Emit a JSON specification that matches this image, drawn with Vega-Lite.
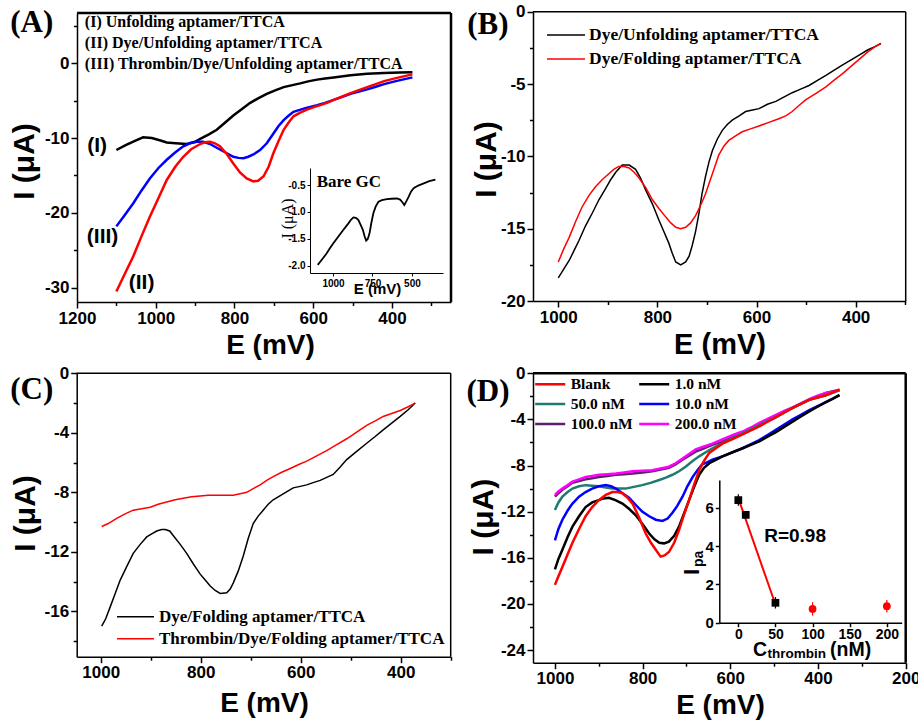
{
"$schema": "https://vega.github.io/schema/vega-lite/v6.json",
"width": 918, "height": 723, "autosize": "none", "padding": 0, "background": "white",
"config": {
 "view": {"stroke": null},
 "axis": {"grid": false, "labelFlush": false, "domainColor": "#000", "domainWidth": 1.5, "tickColor": "#000", "tickWidth": 1.5, "labelColor": "#000", "labelFont": "Liberation Sans", "labelFontWeight": "bold", "labelFontSize": 17, "labelPadding": 2, "labelOverlap": false, "titleColor": "#000", "titleFont": "Liberation Sans", "titleFontWeight": "bold", "titleFontSize": 28, "titleBaseline": "alphabetic"},
 "legend": {"title": null, "orient": "none", "symbolType": "stroke", "symbolStrokeWidth": 3, "labelFont": "Liberation Serif", "labelFontWeight": "bold", "labelColor": "#000", "labelLimit": 500, "rowPadding": 0, "padding": 0}
},
"datasets": {
 "A": [
  {"s":"frameT","E":1200,"I":6.7},{"s":"frameT","E":250,"I":6.7},{"s":"frameR","E":250,"I":6.7},{"s":"frameR","E":250,"I":-31.9},
  {"s":"I","E":1100,"I":-11.6},{"s":"I","E":1075,"I":-10.9},{"s":"I","E":1050,"I":-10.3},{"s":"I","E":1032,"I":-9.9},{"s":"I","E":1010,"I":-10.0},{"s":"I","E":990,"I":-10.3},{"s":"I","E":972,"I":-10.6},{"s":"I","E":950,"I":-10.7},{"s":"I","E":921,"I":-10.8},{"s":"I","E":900,"I":-10.5},{"s":"I","E":887,"I":-10.1},{"s":"I","E":865,"I":-9.5},{"s":"I","E":845,"I":-8.9},{"s":"I","E":825,"I":-8.0},{"s":"I","E":803,"I":-7.0},{"s":"I","E":780,"I":-6.1},{"s":"I","E":760,"I":-5.3},{"s":"I","E":740,"I":-4.7},{"s":"I","E":718,"I":-4.1},{"s":"I","E":695,"I":-3.6},{"s":"I","E":675,"I":-3.2},{"s":"I","E":650,"I":-2.9},{"s":"I","E":633,"I":-2.7},{"s":"I","E":610,"I":-2.4},{"s":"I","E":590,"I":-2.2},{"s":"I","E":570,"I":-2.05},{"s":"I","E":548,"I":-1.9},{"s":"I","E":505,"I":-1.6},{"s":"I","E":463,"I":-1.4},{"s":"I","E":420,"I":-1.3},{"s":"I","E":380,"I":-1.25},{"s":"I","E":348,"I":-1.2},
  {"s":"III","E":1100,"I":-21.8},{"s":"III","E":1079,"I":-20.3},{"s":"III","E":1057,"I":-18.7},{"s":"III","E":1036,"I":-17.0},{"s":"III","E":1015,"I":-15.4},{"s":"III","E":993,"I":-14.0},{"s":"III","E":972,"I":-12.9},{"s":"III","E":950,"I":-11.9},{"s":"III","E":930,"I":-11.1},{"s":"III","E":913,"I":-10.7},{"s":"III","E":896,"I":-10.5},{"s":"III","E":879,"I":-10.5},{"s":"III","E":862,"I":-10.8},{"s":"III","E":845,"I":-11.3},{"s":"III","E":824,"I":-11.9},{"s":"III","E":803,"I":-12.5},{"s":"III","E":790,"I":-12.65},{"s":"III","E":777,"I":-12.7},{"s":"III","E":765,"I":-12.5},{"s":"III","E":752,"I":-12.2},{"s":"III","E":735,"I":-11.6},{"s":"III","E":718,"I":-10.7},{"s":"III","E":701,"I":-9.4},{"s":"III","E":688,"I":-8.4},{"s":"III","E":675,"I":-7.6},{"s":"III","E":662,"I":-7.0},{"s":"III","E":650,"I":-6.5},{"s":"III","E":620,"I":-6.0},{"s":"III","E":590,"I":-5.6},{"s":"III","E":570,"I":-5.3},{"s":"III","E":548,"I":-4.9},{"s":"III","E":526,"I":-4.5},{"s":"III","E":505,"I":-4.1},{"s":"III","E":484,"I":-3.8},{"s":"III","E":463,"I":-3.5},{"s":"III","E":441,"I":-3.15},{"s":"III","E":420,"I":-2.8},{"s":"III","E":390,"I":-2.4},{"s":"III","E":348,"I":-1.9},
  {"s":"II","E":1100,"I":-30.5},{"s":"II","E":1080,"I":-28.3},{"s":"II","E":1057,"I":-25.8},{"s":"II","E":1036,"I":-23.1},{"s":"II","E":1015,"I":-20.5},{"s":"II","E":993,"I":-18.0},{"s":"II","E":972,"I":-15.6},{"s":"II","E":950,"I":-13.8},{"s":"II","E":930,"I":-12.5},{"s":"II","E":910,"I":-11.5},{"s":"II","E":887,"I":-10.8},{"s":"II","E":875,"I":-10.55},{"s":"II","E":862,"I":-10.5},{"s":"II","E":850,"I":-10.7},{"s":"II","E":837,"I":-11.1},{"s":"II","E":820,"I":-12.1},{"s":"II","E":803,"I":-13.4},{"s":"II","E":786,"I":-14.6},{"s":"II","E":769,"I":-15.4},{"s":"II","E":752,"I":-15.8},{"s":"II","E":740,"I":-15.7},{"s":"II","E":726,"I":-15.1},{"s":"II","E":713,"I":-13.8},{"s":"II","E":701,"I":-12.0},{"s":"II","E":688,"I":-10.4},{"s":"II","E":675,"I":-8.9},{"s":"II","E":662,"I":-7.9},{"s":"II","E":650,"I":-7.1},{"s":"II","E":633,"I":-6.6},{"s":"II","E":616,"I":-6.2},{"s":"II","E":600,"I":-5.9},{"s":"II","E":582,"I":-5.6},{"s":"II","E":565,"I":-5.3},{"s":"II","E":548,"I":-4.9},{"s":"II","E":526,"I":-4.45},{"s":"II","E":505,"I":-4.0},{"s":"II","E":484,"I":-3.6},{"s":"II","E":463,"I":-3.2},{"s":"II","E":441,"I":-2.8},{"s":"II","E":420,"I":-2.4},{"s":"II","E":390,"I":-2.0},{"s":"II","E":348,"I":-1.5}
 ],
 "Ains": [
  {"E":1097,"I":-1.98},{"E":1070,"I":-1.88},{"E":1040,"I":-1.765},{"E":1020,"I":-1.67},{"E":998,"I":-1.58},{"E":965,"I":-1.45},{"E":934,"I":-1.33},{"E":905,"I":-1.22},{"E":885,"I":-1.14},{"E":871,"I":-1.10},{"E":855,"I":-1.11},{"E":839,"I":-1.15},{"E":825,"I":-1.24},{"E":811,"I":-1.33},{"E":800,"I":-1.45},{"E":790,"I":-1.53},{"E":780,"I":-1.50},{"E":769,"I":-1.40},{"E":757,"I":-1.20},{"E":744,"I":-1.02},{"E":730,"I":-0.90},{"E":712,"I":-0.81},{"E":690,"I":-0.78},{"E":659,"I":-0.76},{"E":630,"I":-0.755},{"E":595,"I":-0.75},{"E":575,"I":-0.77},{"E":563,"I":-0.81},{"E":548,"I":-0.87},{"E":535,"I":-0.80},{"E":521,"I":-0.72},{"E":505,"I":-0.62},{"E":489,"I":-0.56},{"E":460,"I":-0.51},{"E":425,"I":-0.47},{"E":390,"I":-0.43},{"E":351,"I":-0.40}
 ],
 "B": [
  {"s":"frameT","E":1051,"I":0},{"s":"frameT","E":299,"I":0},{"s":"frameR","E":299,"I":0},{"s":"frameR","E":299,"I":-20},
  {"s":"U","E":1000,"I":-18.4},{"s":"U","E":989,"I":-17.8},{"s":"U","E":978,"I":-17.2},{"s":"U","E":968,"I":-16.5},{"s":"U","E":958,"I":-15.8},{"s":"U","E":945,"I":-14.8},{"s":"U","E":931,"I":-13.9},{"s":"U","E":918,"I":-13.0},{"s":"U","E":904,"I":-12.2},{"s":"U","E":894,"I":-11.6},{"s":"U","E":884,"I":-11.1},{"s":"U","E":871,"I":-10.6},{"s":"U","E":857,"I":-10.6},{"s":"U","E":844,"I":-10.9},{"s":"U","E":834,"I":-11.5},{"s":"U","E":824,"I":-12.3},{"s":"U","E":810,"I":-13.3},{"s":"U","E":797,"I":-14.4},{"s":"U","E":787,"I":-15.2},{"s":"U","E":777,"I":-16.0},{"s":"U","E":770,"I":-16.7},{"s":"U","E":763,"I":-17.3},{"s":"U","E":753,"I":-17.5},{"s":"U","E":743,"I":-17.3},{"s":"U","E":736,"I":-16.9},{"s":"U","E":730,"I":-16.2},{"s":"U","E":723,"I":-15.2},{"s":"U","E":716,"I":-13.9},{"s":"U","E":710,"I":-12.6},{"s":"U","E":703,"I":-11.4},{"s":"U","E":696,"I":-10.4},{"s":"U","E":689,"I":-9.6},{"s":"U","E":679,"I":-8.8},{"s":"U","E":669,"I":-8.2},{"s":"U","E":659,"I":-7.8},{"s":"U","E":649,"I":-7.5},{"s":"U","E":635,"I":-7.2},{"s":"U","E":622,"I":-6.9},{"s":"U","E":608,"I":-6.8},{"s":"U","E":595,"I":-6.7},{"s":"U","E":578,"I":-6.4},{"s":"U","E":561,"I":-6.2},{"s":"U","E":545,"I":-5.9},{"s":"U","E":528,"I":-5.6},{"s":"U","E":511,"I":-5.35},{"s":"U","E":494,"I":-5.1},{"s":"U","E":477,"I":-4.75},{"s":"U","E":460,"I":-4.4},{"s":"U","E":444,"I":-4.05},{"s":"U","E":427,"I":-3.7},{"s":"U","E":410,"I":-3.35},{"s":"U","E":393,"I":-3.0},{"s":"U","E":376,"I":-2.65},{"s":"U","E":360,"I":-2.4},{"s":"U","E":349,"I":-2.2},
  {"s":"F","E":1000,"I":-17.3},{"s":"F","E":989,"I":-16.4},{"s":"F","E":978,"I":-15.6},{"s":"F","E":965,"I":-14.5},{"s":"F","E":952,"I":-13.5},{"s":"F","E":938,"I":-12.7},{"s":"F","E":925,"I":-12.1},{"s":"F","E":911,"I":-11.6},{"s":"F","E":898,"I":-11.2},{"s":"F","E":888,"I":-10.9},{"s":"F","E":878,"I":-10.7},{"s":"F","E":867,"I":-10.7},{"s":"F","E":857,"I":-10.8},{"s":"F","E":847,"I":-11.1},{"s":"F","E":837,"I":-11.5},{"s":"F","E":823,"I":-12.2},{"s":"F","E":810,"I":-13.0},{"s":"F","E":797,"I":-13.6},{"s":"F","E":783,"I":-14.2},{"s":"F","E":773,"I":-14.6},{"s":"F","E":763,"I":-14.9},{"s":"F","E":753,"I":-15.0},{"s":"F","E":743,"I":-14.9},{"s":"F","E":733,"I":-14.6},{"s":"F","E":723,"I":-14.1},{"s":"F","E":713,"I":-13.4},{"s":"F","E":703,"I":-12.6},{"s":"F","E":696,"I":-11.9},{"s":"F","E":689,"I":-11.2},{"s":"F","E":682,"I":-10.5},{"s":"F","E":676,"I":-9.9},{"s":"F","E":666,"I":-9.3},{"s":"F","E":656,"I":-8.9},{"s":"F","E":643,"I":-8.6},{"s":"F","E":629,"I":-8.3},{"s":"F","E":612,"I":-8.1},{"s":"F","E":595,"I":-7.9},{"s":"F","E":575,"I":-7.65},{"s":"F","E":555,"I":-7.4},{"s":"F","E":541,"I":-7.2},{"s":"F","E":528,"I":-6.9},{"s":"F","E":515,"I":-6.5},{"s":"F","E":501,"I":-6.1},{"s":"F","E":480,"I":-5.65},{"s":"F","E":460,"I":-5.2},{"s":"F","E":444,"I":-4.75},{"s":"F","E":427,"I":-4.3},{"s":"F","E":410,"I":-3.8},{"s":"F","E":393,"I":-3.3},{"s":"F","E":376,"I":-2.8},{"s":"F","E":360,"I":-2.4},{"s":"F","E":349,"I":-2.2}
 ],
 "C": [
  {"s":"frameT","E":1048,"I":0},{"s":"frameT","E":300,"I":0},{"s":"frameR","E":300,"I":0},{"s":"frameR","E":300,"I":-19.05},
  {"s":"F","E":998,"I":-17.0},{"s":"F","E":990,"I":-16.5},{"s":"F","E":981,"I":-15.7},{"s":"F","E":971,"I":-14.8},{"s":"F","E":961,"I":-13.9},{"s":"F","E":948,"I":-13.0},{"s":"F","E":935,"I":-12.1},{"s":"F","E":921,"I":-11.5},{"s":"F","E":908,"I":-11.0},{"s":"F","E":898,"I":-10.8},{"s":"F","E":888,"I":-10.6},{"s":"F","E":878,"I":-10.5},{"s":"F","E":871,"I":-10.5},{"s":"F","E":862,"I":-10.6},{"s":"F","E":855,"I":-10.9},{"s":"F","E":841,"I":-11.5},{"s":"F","E":828,"I":-12.1},{"s":"F","E":815,"I":-12.8},{"s":"F","E":801,"I":-13.5},{"s":"F","E":791,"I":-13.9},{"s":"F","E":781,"I":-14.3},{"s":"F","E":771,"I":-14.6},{"s":"F","E":761,"I":-14.8},{"s":"F","E":748,"I":-14.75},{"s":"F","E":741,"I":-14.5},{"s":"F","E":735,"I":-14.1},{"s":"F","E":725,"I":-13.3},{"s":"F","E":715,"I":-12.3},{"s":"F","E":705,"I":-11.1},{"s":"F","E":695,"I":-10.1},{"s":"F","E":685,"I":-9.6},{"s":"F","E":675,"I":-9.2},{"s":"F","E":665,"I":-8.8},{"s":"F","E":655,"I":-8.5},{"s":"F","E":645,"I":-8.3},{"s":"F","E":635,"I":-8.1},{"s":"F","E":625,"I":-7.9},{"s":"F","E":615,"I":-7.7},{"s":"F","E":601,"I":-7.6},{"s":"F","E":588,"I":-7.5},{"s":"F","E":575,"I":-7.35},{"s":"F","E":561,"I":-7.2},{"s":"F","E":548,"I":-7.0},{"s":"F","E":535,"I":-6.8},{"s":"F","E":521,"I":-6.3},{"s":"F","E":508,"I":-5.8},{"s":"F","E":488,"I":-5.25},{"s":"F","E":468,"I":-4.7},{"s":"F","E":451,"I":-4.25},{"s":"F","E":435,"I":-3.8},{"s":"F","E":418,"I":-3.35},{"s":"F","E":401,"I":-2.9},{"s":"F","E":385,"I":-2.45},{"s":"F","E":371,"I":-2.0},
  {"s":"T","E":998,"I":-10.3},{"s":"T","E":985,"I":-10.1},{"s":"T","E":968,"I":-9.75},{"s":"T","E":951,"I":-9.45},{"s":"T","E":935,"I":-9.2},{"s":"T","E":918,"I":-9.1},{"s":"T","E":901,"I":-9.0},{"s":"T","E":885,"I":-8.8},{"s":"T","E":868,"I":-8.65},{"s":"T","E":851,"I":-8.5},{"s":"T","E":835,"I":-8.4},{"s":"T","E":818,"I":-8.3},{"s":"T","E":801,"I":-8.25},{"s":"T","E":785,"I":-8.2},{"s":"T","E":768,"I":-8.2},{"s":"T","E":751,"I":-8.2},{"s":"T","E":735,"I":-8.2},{"s":"T","E":721,"I":-8.1},{"s":"T","E":708,"I":-8.0},{"s":"T","E":695,"I":-7.75},{"s":"T","E":681,"I":-7.5},{"s":"T","E":668,"I":-7.2},{"s":"T","E":655,"I":-6.95},{"s":"T","E":638,"I":-6.65},{"s":"T","E":621,"I":-6.4},{"s":"T","E":605,"I":-6.15},{"s":"T","E":588,"I":-5.9},{"s":"T","E":568,"I":-5.55},{"s":"T","E":548,"I":-5.2},{"s":"T","E":528,"I":-4.8},{"s":"T","E":508,"I":-4.4},{"s":"T","E":488,"I":-3.95},{"s":"T","E":468,"I":-3.5},{"s":"T","E":451,"I":-3.2},{"s":"T","E":435,"I":-2.9},{"s":"T","E":418,"I":-2.7},{"s":"T","E":401,"I":-2.5},{"s":"T","E":385,"I":-2.25},{"s":"T","E":371,"I":-2.0}
 ],
 "D": [
  {"s":"frameT","E":1050,"I":0},{"s":"frameT","E":200,"I":0},{"s":"frameR","E":200,"I":0},{"s":"frameR","E":200,"I":-25.1},
  {"s":"100.0 nM","E":1000,"I":-10.7},{"s":"100.0 nM","E":992,"I":-10.4},{"s":"100.0 nM","E":983,"I":-10.1},{"s":"100.0 nM","E":971,"I":-9.8},{"s":"100.0 nM","E":960,"I":-9.5},{"s":"100.0 nM","E":945,"I":-9.35},{"s":"100.0 nM","E":930,"I":-9.2},{"s":"100.0 nM","E":915,"I":-9.1},{"s":"100.0 nM","E":900,"I":-9.0},{"s":"100.0 nM","E":880,"I":-8.9},{"s":"100.0 nM","E":861,"I":-8.8},{"s":"100.0 nM","E":842,"I":-8.75},{"s":"100.0 nM","E":823,"I":-8.7},{"s":"100.0 nM","E":800,"I":-8.6},{"s":"100.0 nM","E":778,"I":-8.5},{"s":"100.0 nM","E":759,"I":-8.35},{"s":"100.0 nM","E":740,"I":-8.2},{"s":"100.0 nM","E":725,"I":-7.9},{"s":"100.0 nM","E":709,"I":-7.5},{"s":"100.0 nM","E":694,"I":-7.15},{"s":"100.0 nM","E":679,"I":-6.8},{"s":"100.0 nM","E":660,"I":-6.5},{"s":"100.0 nM","E":641,"I":-6.2},{"s":"100.0 nM","E":625,"I":-6.0},{"s":"100.0 nM","E":610,"I":-5.8},{"s":"100.0 nM","E":591,"I":-5.5},{"s":"100.0 nM","E":572,"I":-5.2},{"s":"100.0 nM","E":553,"I":-4.85},{"s":"100.0 nM","E":534,"I":-4.5},{"s":"100.0 nM","E":515,"I":-4.15},{"s":"100.0 nM","E":496,"I":-3.8},{"s":"100.0 nM","E":477,"I":-3.4},{"s":"100.0 nM","E":458,"I":-3.0},{"s":"100.0 nM","E":439,"I":-2.65},{"s":"100.0 nM","E":420,"I":-2.3},{"s":"100.0 nM","E":401,"I":-2.0},{"s":"100.0 nM","E":382,"I":-1.7},{"s":"100.0 nM","E":366,"I":-1.55},{"s":"100.0 nM","E":351,"I":-1.45},
  {"s":"200.0 nM","E":1000,"I":-10.55},{"s":"200.0 nM","E":992,"I":-10.25},{"s":"200.0 nM","E":983,"I":-10.0},{"s":"200.0 nM","E":971,"I":-9.7},{"s":"200.0 nM","E":960,"I":-9.4},{"s":"200.0 nM","E":945,"I":-9.2},{"s":"200.0 nM","E":930,"I":-9.0},{"s":"200.0 nM","E":915,"I":-8.9},{"s":"200.0 nM","E":900,"I":-8.8},{"s":"200.0 nM","E":880,"I":-8.75},{"s":"200.0 nM","E":861,"I":-8.7},{"s":"200.0 nM","E":842,"I":-8.6},{"s":"200.0 nM","E":823,"I":-8.5},{"s":"200.0 nM","E":800,"I":-8.45},{"s":"200.0 nM","E":778,"I":-8.4},{"s":"200.0 nM","E":759,"I":-8.25},{"s":"200.0 nM","E":740,"I":-8.1},{"s":"200.0 nM","E":725,"I":-7.8},{"s":"200.0 nM","E":709,"I":-7.4},{"s":"200.0 nM","E":694,"I":-7.0},{"s":"200.0 nM","E":679,"I":-6.6},{"s":"200.0 nM","E":660,"I":-6.35},{"s":"200.0 nM","E":641,"I":-6.1},{"s":"200.0 nM","E":625,"I":-5.85},{"s":"200.0 nM","E":610,"I":-5.6},{"s":"200.0 nM","E":591,"I":-5.3},{"s":"200.0 nM","E":572,"I":-5.05},{"s":"200.0 nM","E":553,"I":-4.7},{"s":"200.0 nM","E":534,"I":-4.3},{"s":"200.0 nM","E":515,"I":-3.95},{"s":"200.0 nM","E":496,"I":-3.6},{"s":"200.0 nM","E":477,"I":-3.25},{"s":"200.0 nM","E":458,"I":-2.95},{"s":"200.0 nM","E":439,"I":-2.6},{"s":"200.0 nM","E":420,"I":-2.25},{"s":"200.0 nM","E":401,"I":-1.95},{"s":"200.0 nM","E":382,"I":-1.7},{"s":"200.0 nM","E":366,"I":-1.6},{"s":"200.0 nM","E":351,"I":-1.5},
  {"s":"50.0 nM","E":1000,"I":-11.85},{"s":"50.0 nM","E":992,"I":-11.2},{"s":"50.0 nM","E":983,"I":-10.7},{"s":"50.0 nM","E":971,"I":-10.3},{"s":"50.0 nM","E":960,"I":-10.0},{"s":"50.0 nM","E":945,"I":-9.8},{"s":"50.0 nM","E":930,"I":-9.7},{"s":"50.0 nM","E":915,"I":-9.75},{"s":"50.0 nM","E":900,"I":-9.8},{"s":"50.0 nM","E":884,"I":-9.9},{"s":"50.0 nM","E":869,"I":-10.0},{"s":"50.0 nM","E":854,"I":-10.0},{"s":"50.0 nM","E":839,"I":-10.0},{"s":"50.0 nM","E":820,"I":-9.85},{"s":"50.0 nM","E":801,"I":-9.7},{"s":"50.0 nM","E":782,"I":-9.5},{"s":"50.0 nM","E":762,"I":-9.25},{"s":"50.0 nM","E":747,"I":-9.05},{"s":"50.0 nM","E":732,"I":-8.8},{"s":"50.0 nM","E":717,"I":-8.5},{"s":"50.0 nM","E":702,"I":-8.1},{"s":"50.0 nM","E":686,"I":-7.6},{"s":"50.0 nM","E":671,"I":-7.2},{"s":"50.0 nM","E":656,"I":-6.85},{"s":"50.0 nM","E":641,"I":-6.5},{"s":"50.0 nM","E":625,"I":-6.2},{"s":"50.0 nM","E":610,"I":-5.9},{"s":"50.0 nM","E":591,"I":-5.55},{"s":"50.0 nM","E":572,"I":-5.2},{"s":"50.0 nM","E":553,"I":-4.85},{"s":"50.0 nM","E":534,"I":-4.5},{"s":"50.0 nM","E":515,"I":-4.15},{"s":"50.0 nM","E":496,"I":-3.8},{"s":"50.0 nM","E":477,"I":-3.4},{"s":"50.0 nM","E":458,"I":-3.0},{"s":"50.0 nM","E":439,"I":-2.65},{"s":"50.0 nM","E":420,"I":-2.3},{"s":"50.0 nM","E":401,"I":-2.1},{"s":"50.0 nM","E":382,"I":-1.9},{"s":"50.0 nM","E":366,"I":-1.7},{"s":"50.0 nM","E":351,"I":-1.45},
  {"s":"10.0 nM","E":1000,"I":-14.5},{"s":"10.0 nM","E":992,"I":-13.5},{"s":"10.0 nM","E":983,"I":-12.7},{"s":"10.0 nM","E":971,"I":-11.9},{"s":"10.0 nM","E":960,"I":-11.3},{"s":"10.0 nM","E":945,"I":-10.7},{"s":"10.0 nM","E":930,"I":-10.3},{"s":"10.0 nM","E":915,"I":-10.0},{"s":"10.0 nM","E":900,"I":-9.8},{"s":"10.0 nM","E":884,"I":-9.7},{"s":"10.0 nM","E":872,"I":-9.8},{"s":"10.0 nM","E":861,"I":-10.0},{"s":"10.0 nM","E":846,"I":-10.4},{"s":"10.0 nM","E":831,"I":-10.8},{"s":"10.0 nM","E":816,"I":-11.4},{"s":"10.0 nM","E":801,"I":-12.0},{"s":"10.0 nM","E":785,"I":-12.4},{"s":"10.0 nM","E":770,"I":-12.7},{"s":"10.0 nM","E":755,"I":-12.8},{"s":"10.0 nM","E":743,"I":-12.6},{"s":"10.0 nM","E":732,"I":-12.1},{"s":"10.0 nM","E":721,"I":-11.5},{"s":"10.0 nM","E":709,"I":-10.7},{"s":"10.0 nM","E":698,"I":-9.8},{"s":"10.0 nM","E":686,"I":-9.0},{"s":"10.0 nM","E":675,"I":-8.4},{"s":"10.0 nM","E":664,"I":-7.9},{"s":"10.0 nM","E":652,"I":-7.7},{"s":"10.0 nM","E":641,"I":-7.5},{"s":"10.0 nM","E":625,"I":-7.3},{"s":"10.0 nM","E":610,"I":-7.1},{"s":"10.0 nM","E":591,"I":-6.8},{"s":"10.0 nM","E":572,"I":-6.5},{"s":"10.0 nM","E":553,"I":-6.15},{"s":"10.0 nM","E":534,"I":-5.8},{"s":"10.0 nM","E":515,"I":-5.35},{"s":"10.0 nM","E":496,"I":-4.9},{"s":"10.0 nM","E":477,"I":-4.45},{"s":"10.0 nM","E":458,"I":-4.0},{"s":"10.0 nM","E":439,"I":-3.6},{"s":"10.0 nM","E":420,"I":-3.2},{"s":"10.0 nM","E":401,"I":-2.85},{"s":"10.0 nM","E":382,"I":-2.5},{"s":"10.0 nM","E":366,"I":-2.2},{"s":"10.0 nM","E":351,"I":-1.9},
  {"s":"1.0 nM","E":1000,"I":-17.0},{"s":"1.0 nM","E":992,"I":-16.1},{"s":"1.0 nM","E":983,"I":-15.3},{"s":"1.0 nM","E":971,"I":-14.2},{"s":"1.0 nM","E":960,"I":-13.3},{"s":"1.0 nM","E":945,"I":-12.4},{"s":"1.0 nM","E":930,"I":-11.6},{"s":"1.0 nM","E":915,"I":-11.2},{"s":"1.0 nM","E":900,"I":-11.0},{"s":"1.0 nM","E":889,"I":-10.85},{"s":"1.0 nM","E":877,"I":-10.8},{"s":"1.0 nM","E":862,"I":-11.0},{"s":"1.0 nM","E":846,"I":-11.3},{"s":"1.0 nM","E":831,"I":-11.75},{"s":"1.0 nM","E":816,"I":-12.3},{"s":"1.0 nM","E":800,"I":-13.1},{"s":"1.0 nM","E":785,"I":-13.9},{"s":"1.0 nM","E":773,"I":-14.4},{"s":"1.0 nM","E":762,"I":-14.7},{"s":"1.0 nM","E":751,"I":-14.75},{"s":"1.0 nM","E":740,"I":-14.6},{"s":"1.0 nM","E":728,"I":-14.1},{"s":"1.0 nM","E":717,"I":-13.3},{"s":"1.0 nM","E":706,"I":-12.2},{"s":"1.0 nM","E":694,"I":-11.0},{"s":"1.0 nM","E":682,"I":-9.8},{"s":"1.0 nM","E":671,"I":-8.8},{"s":"1.0 nM","E":660,"I":-8.2},{"s":"1.0 nM","E":648,"I":-7.8},{"s":"1.0 nM","E":633,"I":-7.5},{"s":"1.0 nM","E":618,"I":-7.2},{"s":"1.0 nM","E":595,"I":-6.85},{"s":"1.0 nM","E":572,"I":-6.5},{"s":"1.0 nM","E":553,"I":-6.2},{"s":"1.0 nM","E":534,"I":-5.9},{"s":"1.0 nM","E":515,"I":-5.5},{"s":"1.0 nM","E":496,"I":-5.1},{"s":"1.0 nM","E":477,"I":-4.65},{"s":"1.0 nM","E":458,"I":-4.2},{"s":"1.0 nM","E":439,"I":-3.75},{"s":"1.0 nM","E":420,"I":-3.3},{"s":"1.0 nM","E":401,"I":-2.9},{"s":"1.0 nM","E":382,"I":-2.5},{"s":"1.0 nM","E":366,"I":-2.2},{"s":"1.0 nM","E":351,"I":-1.9},
  {"s":"Blank","E":1000,"I":-18.35},{"s":"Blank","E":992,"I":-17.6},{"s":"Blank","E":983,"I":-16.8},{"s":"Blank","E":971,"I":-15.7},{"s":"Blank","E":960,"I":-14.7},{"s":"Blank","E":945,"I":-13.5},{"s":"Blank","E":930,"I":-12.4},{"s":"Blank","E":915,"I":-11.6},{"s":"Blank","E":900,"I":-11.0},{"s":"Blank","E":884,"I":-10.55},{"s":"Blank","E":869,"I":-10.3},{"s":"Blank","E":857,"I":-10.3},{"s":"Blank","E":846,"I":-10.4},{"s":"Blank","E":834,"I":-10.8},{"s":"Blank","E":823,"I":-11.3},{"s":"Blank","E":808,"I":-12.5},{"s":"Blank","E":793,"I":-13.9},{"s":"Blank","E":781,"I":-14.7},{"s":"Blank","E":770,"I":-15.3},{"s":"Blank","E":759,"I":-15.9},{"s":"Blank","E":750,"I":-15.8},{"s":"Blank","E":740,"I":-15.5},{"s":"Blank","E":728,"I":-14.7},{"s":"Blank","E":717,"I":-13.6},{"s":"Blank","E":706,"I":-12.3},{"s":"Blank","E":694,"I":-11.0},{"s":"Blank","E":682,"I":-9.6},{"s":"Blank","E":671,"I":-8.4},{"s":"Blank","E":660,"I":-7.6},{"s":"Blank","E":648,"I":-6.9},{"s":"Blank","E":633,"I":-6.5},{"s":"Blank","E":618,"I":-6.1},{"s":"Blank","E":595,"I":-5.7},{"s":"Blank","E":572,"I":-5.3},{"s":"Blank","E":553,"I":-4.95},{"s":"Blank","E":534,"I":-4.6},{"s":"Blank","E":515,"I":-4.2},{"s":"Blank","E":496,"I":-3.8},{"s":"Blank","E":477,"I":-3.4},{"s":"Blank","E":458,"I":-3.0},{"s":"Blank","E":439,"I":-2.65},{"s":"Blank","E":420,"I":-2.3},{"s":"Blank","E":401,"I":-2.1},{"s":"Blank","E":382,"I":-1.9},{"s":"Blank","E":366,"I":-1.65},{"s":"Blank","E":351,"I":-1.4}
 ],
 "Dins": [
  {"g":"linear","C":0,"Ipa":6.4,"err":0.3},{"g":"linear","C":10,"Ipa":5.63,"err":0.15},{"g":"linear","C":50,"Ipa":1.04,"err":0.3},
  {"g":"outlier","C":100,"Ipa":0.72,"err":0.35},{"g":"outlier","C":200,"Ipa":0.86,"err":0.33}
 ]
},
"layer": [
 {
  "data": {"name": "A"},
  "encoding": {
   "x": {"field": "E", "type": "quantitative", "scale": {"domain": [250, 1200], "range": [451, 77], "nice": false, "zero": false},
    "axis": {"orient": "bottom", "offset": -421, "values": [1200,1100,1000,900,800,700,600,500,400,300], "labelExpr": "datum.value % 200 === 0 ? '' + datum.value : ''", "tickSize": {"condition": {"test": "datum.value % 200 !== 0", "value": 3.5}, "value": 6}, "title": "E (mV)", "titleX": 270, "titleY": 51}},
   "y": {"field": "I", "type": "quantitative", "scale": {"domain": [-31.9, 6.7], "range": [302, 13], "nice": false, "zero": false},
    "axis": {"orient": "left", "offset": -77, "values": [5,0,-5,-10,-15,-20,-25,-30], "labelExpr": "datum.value % 10 === 0 ? '' + datum.value : ''", "tickSize": {"condition": {"test": "datum.value % 10 !== 0", "value": 3.5}, "value": 6}, "title": "I (μA)", "titleFontSize": 30, "titleX": -43.7, "titleY": 161}}
  },
  "layer": [
   {"mark": {"type": "line"}, "encoding": {
     "color": {"field": "s", "type": "nominal", "scale": {"domain": ["I","III","II","frameT","frameR"], "range": ["#000000","#0000ff","#ff0000","#000000","#000000"]}, "legend": null},
     "strokeWidth": {"field": "s", "type": "nominal", "scale": {"domain": ["I","III","II","frameT","frameR"], "range": [2.5,2.5,2.5,1.5,1.5]}, "legend": null}}},
   {"data": {"values": [{"E":1180,"I":5.5,"t":"(I) Unfolding aptamer/TTCA"},{"E":1180,"I":2.69,"t":"(II) Dye/Unfolding aptamer/TTCA"},{"E":1180,"I":-0.11,"t":"(III) Thrombin/Dye/Unfolding aptamer/TTCA"}]},
    "mark": {"type": "text", "align": "left", "baseline": "middle", "font": "Liberation Serif", "fontWeight": "bold", "fontSize": 16, "color": "#000"}, "encoding": {"text": {"field": "t"}}},
   {"data": {"values": [{"E":1149,"I":-11.0,"t":"(I)"},{"E":1135,"I":-23.25,"t":"(III)"},{"E":1036,"I":-29.4,"t":"(II)"}]},
    "mark": {"type": "text", "align": "center", "baseline": "middle", "font": "Liberation Sans", "fontWeight": "bold", "fontSize": 21, "color": "#000"}, "encoding": {"text": {"field": "t"}}},
   {"data": {"values": [{"E":1315,"I":5.32,"t":"(A)"}]},
    "mark": {"type": "text", "align": "center", "baseline": "middle", "font": "Liberation Serif", "fontWeight": "bold", "fontSize": 31, "color": "#000"}, "encoding": {"text": {"field": "t"}}}
  ]
 },
 {
  "data": {"name": "B"},
  "encoding": {
   "x": {"field": "E", "type": "quantitative", "scale": {"domain": [299, 1051], "range": [905.7, 533], "nice": false, "zero": false},
    "axis": {"orient": "bottom", "offset": -422, "values": [1000,900,800,700,600,500,400,300], "labelExpr": "datum.value % 200 === 0 ? '' + datum.value : ''", "tickSize": {"condition": {"test": "datum.value % 200 !== 0", "value": 3.5}, "value": 6}, "title": "E (mV)", "titleFontSize": 29, "titleX": 719.5, "titleY": 52.3}},
   "y": {"field": "I", "type": "quantitative", "scale": {"domain": [-20, 0], "range": [301, 11.7], "nice": false, "zero": false},
    "axis": {"orient": "left", "offset": -533, "values": [0,-2.5,-5,-7.5,-10,-12.5,-15,-17.5,-20], "labelExpr": "datum.value % 5 === 0 ? '' + datum.value : ''", "tickSize": {"condition": {"test": "datum.value % 5 !== 0", "value": 3.5}, "value": 6}, "title": "I (μA)", "titleFontSize": 30, "titleX": -37.3, "titleY": 159}}
  },
  "layer": [
   {"mark": {"type": "line"}, "encoding": {
     "color": {"field": "s", "type": "nominal", "scale": {"domain": ["frameT","frameR","U","F"], "range": ["#000000","#000000","#000000","#ff0000"]},
      "legend": {"values": ["U","F"], "legendX": 546, "legendY": 23, "symbolSize": 1444, "clipHeight": 24, "labelFontSize": 17.5, "labelOffset": 3, "labelExpr": "datum.value === 'U' ? 'Dye/Unfolding aptamer/TTCA' : 'Dye/Folding aptamer/TTCA'"}},
     "strokeWidth": {"field": "s", "type": "nominal", "scale": {"domain": ["frameT","frameR","U","F"], "range": [1.5,1.5,2.5,2.5]}, "legend": null}}},
   {"data": {"values": [{"E":1142,"I":-0.92,"t":"(B)"}]},
    "mark": {"type": "text", "align": "center", "baseline": "middle", "font": "Liberation Serif", "fontWeight": "bold", "fontSize": 31, "color": "#000"}, "encoding": {"text": {"field": "t"}}}
  ]
 },
 {
  "data": {"name": "C"},
  "encoding": {
   "x": {"field": "E", "type": "quantitative", "scale": {"domain": [300, 1048], "range": [450.7, 76.7], "nice": false, "zero": false},
    "axis": {"orient": "bottom", "offset": -66.3, "values": [1000,900,800,700,600,500,400,300], "labelExpr": "datum.value % 200 === 0 ? '' + datum.value : ''", "tickSize": {"condition": {"test": "datum.value % 200 !== 0", "value": 3.5}, "value": 6}, "title": "E (mV)", "titleX": 264, "titleY": 55}},
   "y": {"field": "I", "type": "quantitative", "scale": {"domain": [-19.05, 0], "range": [656.7, 373.3], "nice": false, "zero": false},
    "axis": {"orient": "left", "offset": -76.7, "values": [0,-2,-4,-6,-8,-10,-12,-14,-16,-18], "labelExpr": "datum.value % 4 === 0 ? '' + datum.value : ''", "tickSize": {"condition": {"test": "datum.value % 4 !== 0", "value": 3.5}, "value": 6}, "title": "I (μA)", "titleFontSize": 30, "titleX": -41.7, "titleY": 513}}
  },
  "layer": [
   {"mark": {"type": "line"}, "encoding": {
     "color": {"field": "s", "type": "nominal", "scale": {"domain": ["frameT","frameR","F","T"], "range": ["#000000","#000000","#000000","#ff0000"]},
      "legend": {"values": ["F","T"], "legendX": 116, "legendY": 606, "symbolSize": 1369, "clipHeight": 21.6, "labelFontSize": 17, "labelOffset": 4, "labelExpr": "datum.value === 'F' ? 'Dye/Folding aptamer/TTCA' : 'Thrombin/Dye/Folding aptamer/TTCA'"}},
     "strokeWidth": {"field": "s", "type": "nominal", "scale": {"domain": ["frameT","frameR","F","T"], "range": [1.5,1.5,2.5,2.5]}, "legend": null}}},
   {"data": {"values": [{"E":1138,"I":-1.12,"t":"(C)"}]},
    "mark": {"type": "text", "align": "center", "baseline": "middle", "font": "Liberation Serif", "fontWeight": "bold", "fontSize": 31, "color": "#000"}, "encoding": {"text": {"field": "t"}}}
  ]
 },
 {
  "data": {"name": "D"},
  "encoding": {
   "x": {"field": "E", "type": "quantitative", "scale": {"domain": [200, 1050], "range": [905.7, 533], "nice": false, "zero": false},
    "axis": {"orient": "bottom", "offset": -60.3, "values": [1000,900,800,700,600,500,400,300,200], "labelExpr": "datum.value % 200 === 0 ? '' + datum.value : ''", "tickSize": {"condition": {"test": "datum.value % 200 !== 0", "value": 3.5}, "value": 6}, "title": "E (mV)", "titleX": 720, "titleY": 50.6}},
   "y": {"field": "I", "type": "quantitative", "scale": {"domain": [-25.1, 0], "range": [662.7, 373.3], "nice": false, "zero": false},
    "axis": {"orient": "left", "offset": -533, "values": [0,-2,-4,-6,-8,-10,-12,-14,-16,-18,-20,-22,-24], "labelExpr": "datum.value % 4 === 0 ? '' + datum.value : ''", "tickSize": {"condition": {"test": "datum.value % 4 !== 0", "value": 3.5}, "value": 6}, "title": "I (μA)", "titleFontSize": 30, "titleX": -40.7, "titleY": 516.7}}
  },
  "layer": [
   {"mark": {"type": "line"}, "encoding": {
     "color": {"field": "s", "type": "nominal", "scale": {"domain": ["Blank","50.0 nM","100.0 nM","1.0 nM","10.0 nM","200.0 nM","frameT","frameR"], "range": ["#ff0000","#1f7a70","#5e1f6a","#000000","#0000ff","#ff00ff","#000000","#000000"]},
      "legend": {"values": ["Blank","50.0 nM","100.0 nM","1.0 nM","10.0 nM","200.0 nM"], "legendX": 533.7, "legendY": 374.2, "symbolSize": 900, "clipHeight": 19.7, "labelFontSize": 15.5, "labelOffset": 4, "columns": 2, "columnPadding": 5}},
     "strokeWidth": {"field": "s", "type": "nominal", "scale": {"domain": ["Blank","50.0 nM","100.0 nM","1.0 nM","10.0 nM","200.0 nM","frameT","frameR"], "range": [2.5,2.5,2.5,2.5,2.5,2.5,1.5,1.5]}, "legend": null}}},
   {"data": {"values": [{"E":1152.6,"I":-1.6,"t":"(D)"}]},
    "mark": {"type": "text", "align": "center", "baseline": "middle", "font": "Liberation Serif", "fontWeight": "bold", "fontSize": 31, "color": "#000"}, "encoding": {"text": {"field": "t"}}}
  ]
 },
 {
  "data": {"name": "Ains"},
  "encoding": {
   "x": {"field": "E", "type": "quantitative", "scale": {"domain": [303, 1146], "range": [443, 310], "nice": false, "zero": false},
    "axis": {"orient": "bottom", "offset": -450, "values": [1000, 750, 500], "labelExpr": "'' + datum.value", "labelFontSize": 10, "tickSize": 3, "domainWidth": 1, "tickWidth": 1, "title": "E (mV)", "titleFontSize": 15, "titleX": 377, "titleY": 20}},
   "y": {"field": "I", "type": "quantitative", "scale": {"domain": [-2.13, -0.185], "range": [273, 168], "nice": false, "zero": false},
    "axis": {"orient": "left", "offset": -310, "values": [-0.5, -1.0, -1.5, -2.0], "labelExpr": "replace(format(datum.value, '.1f'), '−', '-')", "labelFontSize": 10, "tickSize": 3, "domainWidth": 1, "tickWidth": 1, "title": "I (μA)", "titleFont": "Liberation Serif", "titleFontWeight": "normal", "titleFontSize": 16, "titleX": -18, "titleY": 218}}
  },
  "layer": [
   {"mark": {"type": "line", "strokeWidth": 1.8, "color": "#000"}},
   {"data": {"values": [{"E":1103.5,"I":-0.439,"t":"Bare GC"}]},
    "mark": {"type": "text", "align": "left", "baseline": "middle", "font": "Liberation Serif", "fontWeight": "bold", "fontSize": 17, "color": "#000"}, "encoding": {"text": {"field": "t"}}}
  ]
 },
 {
  "data": {"name": "Dins"},
  "encoding": {
   "x": {"field": "C", "type": "quantitative", "scale": {"domain": [-25.6, 220], "range": [719.3, 901.7], "nice": false, "zero": false},
    "axis": {"orient": "bottom", "offset": -100.3, "values": [0, 50, 100, 150, 200], "labelFontSize": 14, "labelPadding": 1, "tickSize": 4, "title": null}},
   "y": {"field": "Ipa", "type": "quantitative", "scale": {"domain": [0, 7.45], "range": [622.7, 480], "nice": false, "zero": false},
    "axis": {"orient": "left", "offset": -719.3, "values": [0, 2, 4, 6], "labelFontSize": 15, "tickSize": 4, "title": null}}
  },
  "layer": [
   {"data": {"values": [{"C":0,"Ipa":6.5},{"C":50,"Ipa":0.95}]}, "mark": {"type": "line", "color": "#ff0000", "strokeWidth": 2}},
   {"mark": {"type": "errorbar", "ticks": false, "thickness": 1.2}, "encoding": {"yError": {"field": "err"}, "color": {"field": "g", "type": "nominal", "scale": {"domain": ["linear","outlier"], "range": ["#000000","#ff0000"]}, "legend": null}}},
   {"mark": {"type": "point", "filled": true, "opacity": 1, "size": 60}, "encoding": {"shape": {"field": "g", "type": "nominal", "scale": {"domain": ["linear","outlier"], "range": ["square","circle"]}, "legend": null}, "color": {"field": "g", "type": "nominal", "scale": {"domain": ["linear","outlier"], "range": ["#000000","#ff0000"]}, "legend": null}}},
   {"data": {"values": [{"C":76.4,"Ipa":4.53,"t":"R=0.98"}]}, "mark": {"type": "text", "align": "center", "baseline": "middle", "font": "Liberation Sans", "fontWeight": "bold", "fontSize": 19, "color": "#000"}, "encoding": {"text": {"field": "t"}}},
   {"data": {"values": [{"C":19.8,"Ipa":-1.75,"t":"C"},{"C":123.6,"Ipa":-1.75,"t":"(nM)"}]}, "mark": {"type": "text", "align": "left", "baseline": "alphabetic", "font": "Liberation Sans", "fontWeight": "bold", "fontSize": 19.5, "color": "#000"}, "encoding": {"text": {"field": "t"}}},
   {"data": {"values": [{"C":39.4,"Ipa":-1.83,"t":"thrombin"}]}, "mark": {"type": "text", "align": "left", "baseline": "alphabetic", "font": "Liberation Sans", "fontWeight": "bold", "fontSize": 13.5, "color": "#000"}, "encoding": {"text": {"field": "t"}}},
   {"data": {"values": [{"C":-53,"Ipa":2.49,"t":"I"}]}, "mark": {"type": "text", "align": "left", "baseline": "alphabetic", "angle": 270, "font": "Liberation Sans", "fontWeight": "bold", "fontSize": 22, "color": "#000"}, "encoding": {"text": {"field": "t"}}},
   {"data": {"values": [{"C":-47.6,"Ipa":2.91,"t":"pa"}]}, "mark": {"type": "text", "align": "left", "baseline": "alphabetic", "angle": 270, "font": "Liberation Sans", "fontWeight": "bold", "fontSize": 14, "color": "#000"}, "encoding": {"text": {"field": "t"}}}
  ]
 }
],
"resolve": {"scale": {"x": "independent", "y": "independent", "color": "independent", "shape": "independent", "strokeWidth": "independent"}, "axis": {"x": "independent", "y": "independent"}, "legend": {"color": "independent"}}
}
